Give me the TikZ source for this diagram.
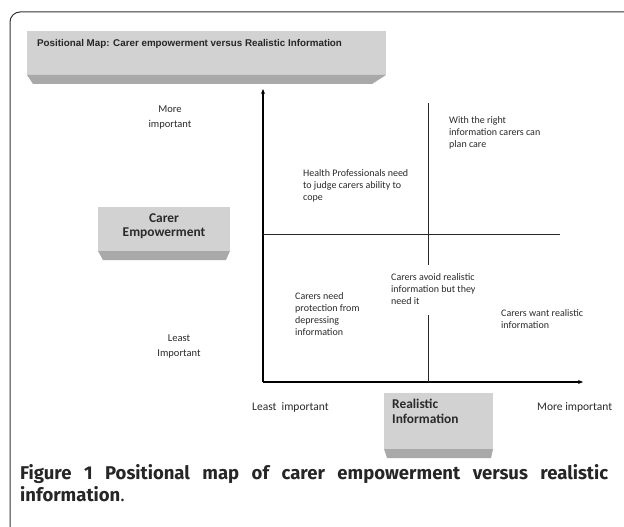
\documentclass[tikz,border=0pt]{standalone}
\usepackage{fontspec}
\setmainfont{Carlito}
\newfontfamily\arialf{Liberation Sans}
\newfontfamily\capf{Fira Sans}
\usetikzlibrary{arrows.meta}
\definecolor{facegray}{HTML}{D2D2D2}
\definecolor{bevgray}{HTML}{A9A9A9}
\definecolor{txtgray}{HTML}{2A2A2A}
\tikzset{
  axis/.style={line width=1.4pt, draw=black, -{Stealth[length=5pt,width=4pt]}},
  qline/.style={line width=0.8pt, draw=black!85},
  qtext/.style={anchor=base west, inner sep=0pt, align=left, font=\fontsize{10}{12}\selectfont, text=txtgray},
  sidetext/.style={anchor=base, inner sep=0pt, align=center, font=\fontsize{10.5}{15}\selectfont, text=txtgray},
  axtext/.style={anchor=base west, inner sep=0pt, font=\fontsize{11.5}{13}\selectfont, text=txtgray},
  boxtext/.style={anchor=base, inner sep=0pt, font=\bfseries\fontsize{13.4}{14}\selectfont, text=txtgray},
  captext/.style={anchor=base west, inner sep=0pt, font=\capf\fontsize{18.5}{22}\selectfont, text=black!85},
  face/.style={fill=facegray, draw=none},
  bevel/.style={fill=bevgray, draw=none},
  frame/.style={draw=black!80, line width=1pt, rounded corners=10pt}
}
\begin{document}
\begin{tikzpicture}[x=1pt,y=-1pt]
\useasboundingbox (0,0) rectangle (624,527);
\fill[white] (0,0) rectangle (624,527);
% frame
\draw[frame] (10,540) -- (10,12) -- (640,12);
% title box
\fill[face] (27,31) rectangle (386,75);
\fill[bevel] (27,75) -- (386,75) -- (372,84) -- (33,84) -- cycle;
\node[anchor=base west, inner sep=0pt, font=\arialf\bfseries\fontsize{9.8}{11}\selectfont, text=black!85] (title) at (37,46.5) {Positional Map: Carer empowerment versus Realistic Information};
% carer box
\fill[face] (98,207) rectangle (230,251);
\fill[bevel] (98,251) -- (230,251) -- (226,260) -- (103,260) -- cycle;
\node[boxtext] (ce1) at (164,222.5) {Carer};
\node[boxtext] (ce2) at (164,236.5) {Empowerment};
% realistic box
\fill[face] (384,393) rectangle (493,449);
\fill[bevel] (384,449) -- (493,449) -- (491,458) -- (387,458) -- cycle;
\node[boxtext, anchor=base west] (ri1) at (392,408.5) {Realistic};
\node[boxtext, anchor=base west] (ri2) at (392,423.5) {Information};
% axes
\coordinate (O) at (263,382);
\coordinate (ytop) at (263,89);
\coordinate (xend) at (583,382);
\draw[axis] (O) -- (ytop);
\draw[axis] (O) -- (xend);
% quadrant lines
\coordinate (vt) at (428,103);
\coordinate (vm1) at (428,265);
\coordinate (vm2) at (428,315);
\coordinate (vb) at (428,382);
\coordinate (hl) at (263,234);
\coordinate (hr) at (560,234);
\draw[qline] (vt) -- (vm1);
\draw[qline] (vm2) -- (vb);
\draw[qline] (hl) -- (hr);
% quadrant texts (anchor at baseline of last line)
\node[qtext] (q1) at (449,147.5) {With the right\\information carers can\\plan care};
\node[qtext] (q2) at (303,200.5) {Health Professionals need\\to judge carers ability to\\cope};
\node[qtext] (q3) at (391,304.5) {Carers avoid realistic\\information but they\\need it};
\node[qtext] (q4) at (295,335.5) {Carers need\\protection from\\depressing\\information};
\node[qtext] (q5) at (501,328.5) {Carers want realistic\\information};
% side labels
\node[sidetext] (mi) at (170,127.5) {More\\important};
\node[sidetext] (li) at (179,356) {Least\\Important};
\node[axtext] (lx) at (252,410) {Least\ \ important};
\node[axtext] (mx) at (537,410) {More important};
% caption
\node[captext] (cap1) at (20,479)
  {\makebox[588pt][s]{\bfseries Figure 1 Positional map of carer empowerment versus realistic}};
\node[captext] (cap2) at (20,501) {{\bfseries information}.};
\end{tikzpicture}
\end{document}
